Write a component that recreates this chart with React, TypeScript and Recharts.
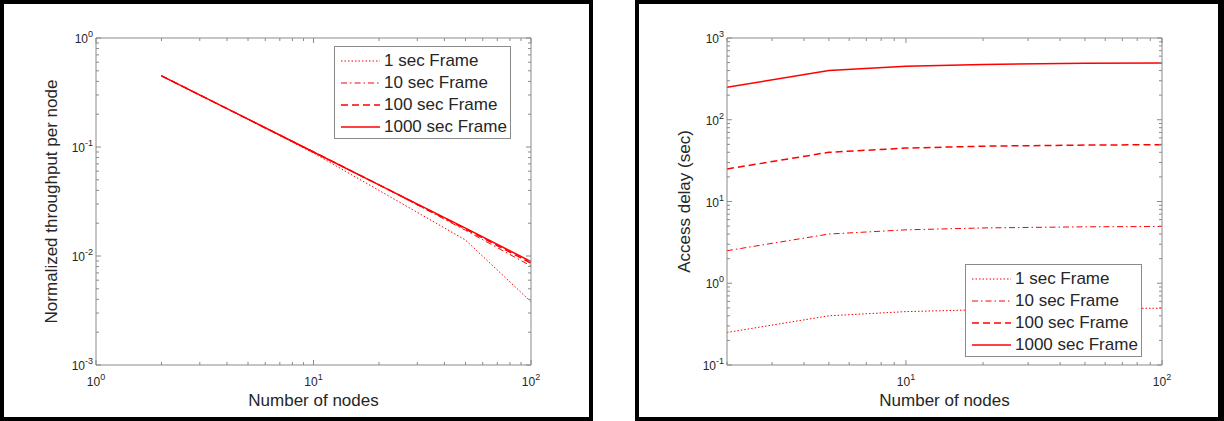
import { Label, Legend, Line, LineChart, XAxis, YAxis } from "recharts";

const FONT = '"Liberation Sans", Arial, Helvetica, sans-serif';
const AXIS = "#8a8a8a";
const INK = "#262626";
const RED = "#ff0000";

// number of nodes (x) shared by both plots
const nodes = [2, 5, 10, 20, 50, 100];

// normalized throughput per node
const thr1 = [0.45, 0.18, 0.088, 0.04, 0.014, 0.0038];
const thr10 = [0.45, 0.18, 0.09, 0.045, 0.0172, 0.0081];
const thr100 = [0.45, 0.18, 0.09, 0.045, 0.0177, 0.0086];
const thr1000 = [0.45, 0.18, 0.09, 0.045, 0.018, 0.0089];

// access delay in seconds
const delay1 = [0.25, 0.4, 0.45, 0.475, 0.49, 0.495];
const delay10 = [2.5, 4, 4.5, 4.75, 4.9, 4.95];
const delay100 = [25, 40, 45, 47.5, 49, 49.5];
const delay1000 = [250, 400, 450, 475, 490, 495];

const frameNames = ["1 sec Frame", "10 sec Frame", "100 sec Frame", "1000 sec Frame"];

const SERIES = [
  { key: "f1", name: frameNames[0], dash: "1.5 2", width: 1 },
  { key: "f10", name: frameNames[1], dash: "6 3 1.5 3", width: 1 },
  { key: "f100", name: frameNames[2], dash: "7 4", width: 1.5 },
  { key: "f1000", name: frameNames[3], dash: undefined, width: 1.5 },
];

const throughputRows = nodes.map((n, i) => ({
  n,
  f1: thr1[i],
  f10: thr10[i],
  f100: thr100[i],
  f1000: thr1000[i],
}));

const delayRows = nodes.map((n, i) => ({
  n,
  f1: delay1[i],
  f10: delay10[i],
  f100: delay100[i],
  f1000: delay1000[i],
}));

// log tick positions: 1..9 in every decade plus the closing power of ten
function decadeTicks(fromExp: number, toExp: number) {
  const out: number[] = [];
  for (let e = fromExp; e < toExp; e++) {
    for (let k = 1; k < 10; k++) out.push(Number((k * Math.pow(10, e)).toPrecision(6)));
  }
  out.push(Math.pow(10, toExp));
  return out;
}

const thrXTicks = decadeTicks(0, 2);
const thrYTicks = decadeTicks(-3, 0);
const delayXTicks = decadeTicks(0, 2).filter((v) => v >= 2);
const delayYTicks = decadeTicks(-1, 3);

const isMajor = (v: number) => Math.abs(Math.log10(v) - Math.round(Math.log10(v))) < 1e-6;

function LogTick(props: any) {
  const { x, y, payload, side, labels } = props;
  const v = payload.value;
  const major = isMajor(v);
  const len = major ? 5 : 3;
  const exp = Math.round(Math.log10(v));
  let tick;
  if (side === "bottom") tick = <line x1={x} y1={y} x2={x} y2={y - len} />;
  else if (side === "top") tick = <line x1={x} y1={y} x2={x} y2={y + len} />;
  else if (side === "left") tick = <line x1={x} y1={y} x2={x + len} y2={y} />;
  else tick = <line x1={x} y1={y} x2={x - len} y2={y} />;

  let label = null;
  if (labels && major) {
    const sup = (
      <>
        <tspan>10</tspan>
        <tspan dy={-6} fontSize={9}>
          {String(exp)}
        </tspan>
      </>
    );
    label =
      side === "bottom" ? (
        <text x={x} y={y + 21} textAnchor="middle" fontSize={12} fill={INK} fontFamily={FONT}>
          {sup}
        </text>
      ) : (
        <text x={x - 3} y={y + 5} textAnchor="end" fontSize={12} fill={INK} fontFamily={FONT}>
          {sup}
        </text>
      );
  }
  return (
    <g>
      <g stroke={AXIS} strokeWidth={1}>{tick}</g>
      {label}
    </g>
  );
}

function LegendBox() {
  return (
    <div
      style={{
        boxSizing: "border-box",
        width: 177,
        height: 93,
        border: `1px solid ${AXIS}`,
        background: "#fff",
        paddingTop: 3,
        paddingLeft: 6,
        fontFamily: FONT,
        fontSize: 17,
        color: INK,
      }}
    >
      {SERIES.map((s) => (
        <div key={s.key} style={{ display: "flex", alignItems: "center", height: 22 }}>
          <svg width={40} height={22} style={{ marginRight: 3 }}>
            <line
              x1={0}
              y1={11}
              x2={39}
              y2={11}
              stroke={RED}
              strokeWidth={s.width}
              strokeDasharray={s.dash}
            />
          </svg>
          <span style={{ whiteSpace: "nowrap", lineHeight: "22px" }}>{s.name}</span>
        </div>
      ))}
    </div>
  );
}

type PanelProps = {
  rows: any[];
  width: number;
  marginLeft: number;
  xDomain: [number, number];
  yDomain: [number, number];
  xTicks: number[];
  yTicks: number[];
  yTitle: string;
  yTitleDx: number;
  legendLeft: number;
  legendTop: number;
};

function LogPanel(p: PanelProps) {
  return (
    <LineChart
      width={p.width}
      height={421}
      data={p.rows}
      margin={{ top: 37, right: 61, bottom: 26, left: p.marginLeft }}
    >
      <XAxis
        dataKey="n"
        type="number"
        scale="log"
        domain={p.xDomain}
        allowDataOverflow
        ticks={p.xTicks}
        interval={0}
        height={30}
        tickSize={0}
        tickMargin={0}
        tickLine={false}
        axisLine={{ stroke: AXIS }}
        tick={(t: any) => <LogTick {...t} side="bottom" labels />}
      >
        <Label
          content={(l: any) => {
            const vb = l.viewBox;
            return (
              <text
                x={vb.x + vb.width / 2}
                y={vb.y + 41}
                textAnchor="middle"
                fontSize={17}
                fill={INK}
                fontFamily={FONT}
              >
                Number of nodes
              </text>
            );
          }}
        />
      </XAxis>
      <XAxis
        xAxisId="top"
        orientation="top"
        dataKey="n"
        type="number"
        scale="log"
        domain={p.xDomain}
        allowDataOverflow
        ticks={p.xTicks}
        interval={0}
        height={1}
        tickSize={0}
        tickMargin={0}
        tickLine={false}
        axisLine={{ stroke: AXIS }}
        tick={(t: any) => <LogTick {...t} side="top" />}
      />
      <YAxis
        type="number"
        scale="log"
        domain={p.yDomain}
        allowDataOverflow
        ticks={p.yTicks}
        interval={0}
        width={60}
        tickSize={0}
        tickMargin={0}
        tickLine={false}
        axisLine={{ stroke: AXIS }}
        tick={(t: any) => <LogTick {...t} side="left" labels />}
      >
        <Label
          content={(l: any) => {
            const vb = l.viewBox;
            const cx = vb.x + p.yTitleDx;
            const cy = vb.y + vb.height / 2;
            return (
              <text
                x={cx}
                y={cy}
                transform={`rotate(-90, ${cx}, ${cy})`}
                textAnchor="middle"
                fontSize={17}
                fill={INK}
                fontFamily={FONT}
              >
                {p.yTitle}
              </text>
            );
          }}
        />
      </YAxis>
      <YAxis
        yAxisId="right"
        orientation="right"
        type="number"
        scale="log"
        domain={p.yDomain}
        allowDataOverflow
        ticks={p.yTicks}
        interval={0}
        width={1}
        tickSize={0}
        tickMargin={0}
        tickLine={false}
        axisLine={{ stroke: AXIS }}
        tick={(t: any) => <LogTick {...t} side="right" />}
      />
      <Legend
        layout="vertical"
        align="center"
        verticalAlign="middle"
        wrapperStyle={{ left: p.legendLeft, top: p.legendTop, width: 177, height: 93 }}
        content={() => <LegendBox />}
      />
      {SERIES.map((s) => (
        <Line
          key={s.key}
          dataKey={s.key}
          name={s.name}
          type="linear"
          stroke={RED}
          strokeWidth={s.width}
          strokeDasharray={s.dash}
          dot={false}
          activeDot={false}
          isAnimationActive={false}
        />
      ))}
    </LineChart>
  );
}

const frame = (left: number, width: number, right: number) => ({
  position: "absolute" as const,
  left,
  top: 0,
  width,
  height: 421,
  boxSizing: "border-box" as const,
  borderStyle: "solid",
  borderColor: "#000",
  borderWidth: `4px ${right}px 4px 4px`,
  pointerEvents: "none" as const,
});

export default function App() {
  return (
    <div
      style={{
        position: "absolute",
        left: 0,
        top: 0,
        width: 1224,
        height: 421,
        background: "#fff",
        fontFamily: FONT,
      }}
    >
      <div style={{ position: "absolute", left: 0, top: 0 }}>
        <LogPanel
          rows={throughputRows}
          width={593}
          marginLeft={36}
          xDomain={[1, 100]}
          yDomain={[0.001, 1]}
          xTicks={thrXTicks}
          yTicks={thrYTicks}
          yTitle="Normalized throughput per node"
          yTitleDx={21}
          legendLeft={334}
          legendTop={46}
        />
      </div>
      <div style={{ position: "absolute", left: 635, top: 0 }}>
        <LogPanel
          rows={delayRows}
          width={589}
          marginLeft={32}
          xDomain={[2, 100]}
          yDomain={[0.1, 1000]}
          xTicks={delayXTicks}
          yTicks={delayYTicks}
          yTitle="Access delay (sec)"
          yTitleDx={23}
          legendLeft={330}
          legendTop={264}
        />
      </div>
      <div style={frame(0, 593, 4)} />
      <div style={frame(635, 589, 6)} />
    </div>
  );
}
